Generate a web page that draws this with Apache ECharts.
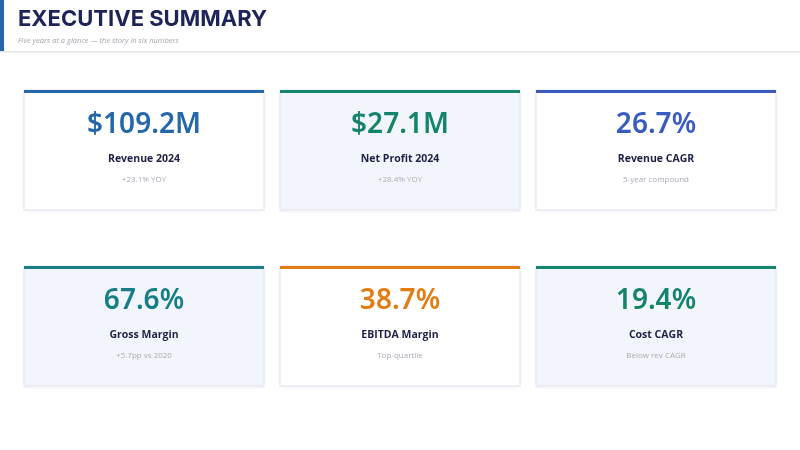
<!DOCTYPE html>
<html>
<head>
	<meta charset="utf-8"/>
	<title>Executive Summary</title>
	<style>
		* { margin: 0; padding: 0; }
		body { background: #fff; }
	</style>
</head>
<body>
	<div id="myChart" style="width: 800px;height:450px;"></div>

	<script src="https://cdn.jsdelivr.net/npm/echarts@6/dist/echarts.min.js"></script>
	<script>
		// KPI data
		var kpiValues = ['$109.2M', '$27.1M', '26.7%', '67.6%', '38.7%', '19.4%'];
		var kpiLabels = ['Revenue 2024', 'Net Profit 2024', 'Revenue CAGR', 'Gross Margin', 'EBITDA Margin', 'Cost CAGR'];
		var kpiNotes = ['+23.1% YOY', '+28.4% YOY', '5-year compound', '+5.7pp vs 2020', 'Top-quartile', 'Below rev CAGR'];
		var kpiColors = ['#2667a9', '#15846c', '#3a5cc0', '#167f85', '#e27d14', '#15846c'];

		var myChart = echarts.init(document.getElementById('myChart'));

		var cardW = 240, cardH = 120, gapX = 16;
		var left0 = 24, rowTops = [90, 266];
		var graphics = [];

		// header
		graphics.push({
			type: 'rect', shape: { x: 0, y: 51, width: 800, height: 1.5 },
			style: { fill: '#e3e4ea' }, z: 2
		});
		graphics.push({
			type: 'rect', shape: { x: 0, y: 0, width: 4, height: 51 },
			style: { fill: '#2667a9' }, z: 3
		});
		graphics.push({
			type: 'text', x: 18, y: 19, z: 3,
			style: {
				text: 'EXECUTIVE SUMMARY', fill: '#1e2457',
				font: 'bold 22px Inter', textVerticalAlign: 'middle'
			}
		});
		graphics.push({
			type: 'text', x: 18, y: 41, z: 3,
			style: {
				text: 'Five years at a glance \u2014 the story in six numbers', fill: '#a3a6b0',
				font: 'italic 7.5px "Open Sans"', textVerticalAlign: 'middle'
			}
		});

		kpiValues.forEach(function (val, i) {
			var col = i % 3, row = Math.floor(i / 3);
			var x = left0 + col * (cardW + gapX);
			var y = rowTops[row];
			var cx = x + cardW / 2;
			var tinted = (i % 2 === 1);

			graphics.push({
				type: 'rect', z: 5,
				shape: { x: x, y: y, width: cardW, height: cardH },
				style: {
					fill: tinted ? '#f3f5fd' : '#fff',
					stroke: '#e8e4f0', lineWidth: 1,
					shadowBlur: 3, shadowColor: 'rgba(40,40,80,0.05)', shadowOffsetY: 1
				}
			});
			graphics.push({
				type: 'rect', z: 6,
				shape: { x: x, y: y, width: cardW, height: 3 },
				style: { fill: kpiColors[i] }
			});
			graphics.push({
				type: 'text', x: cx, y: y + 35, z: 7,
				style: {
					text: val, fill: kpiColors[i],
					font: '600 28px "Noto Sans"', textAlign: 'center', textVerticalAlign: 'middle'
				}
			});
			graphics.push({
				type: 'text', x: cx, y: y + 69, z: 7,
				style: {
					text: kpiLabels[i], fill: '#1e2145',
					font: 'bold 10.5px "Open Sans"', textAlign: 'center', textVerticalAlign: 'middle'
				}
			});
			graphics.push({
				type: 'text', x: cx, y: y + 90, z: 7,
				style: {
					text: kpiNotes[i], fill: '#a9abb5',
					font: '8px "Open Sans"', textAlign: 'center', textVerticalAlign: 'middle'
				}
			});
		});

		var option = {
			backgroundColor: '#fff',
			animation: false,
			graphic: { elements: graphics }
		};

		myChart.setOption(option);
	</script>
</body>
</html>
